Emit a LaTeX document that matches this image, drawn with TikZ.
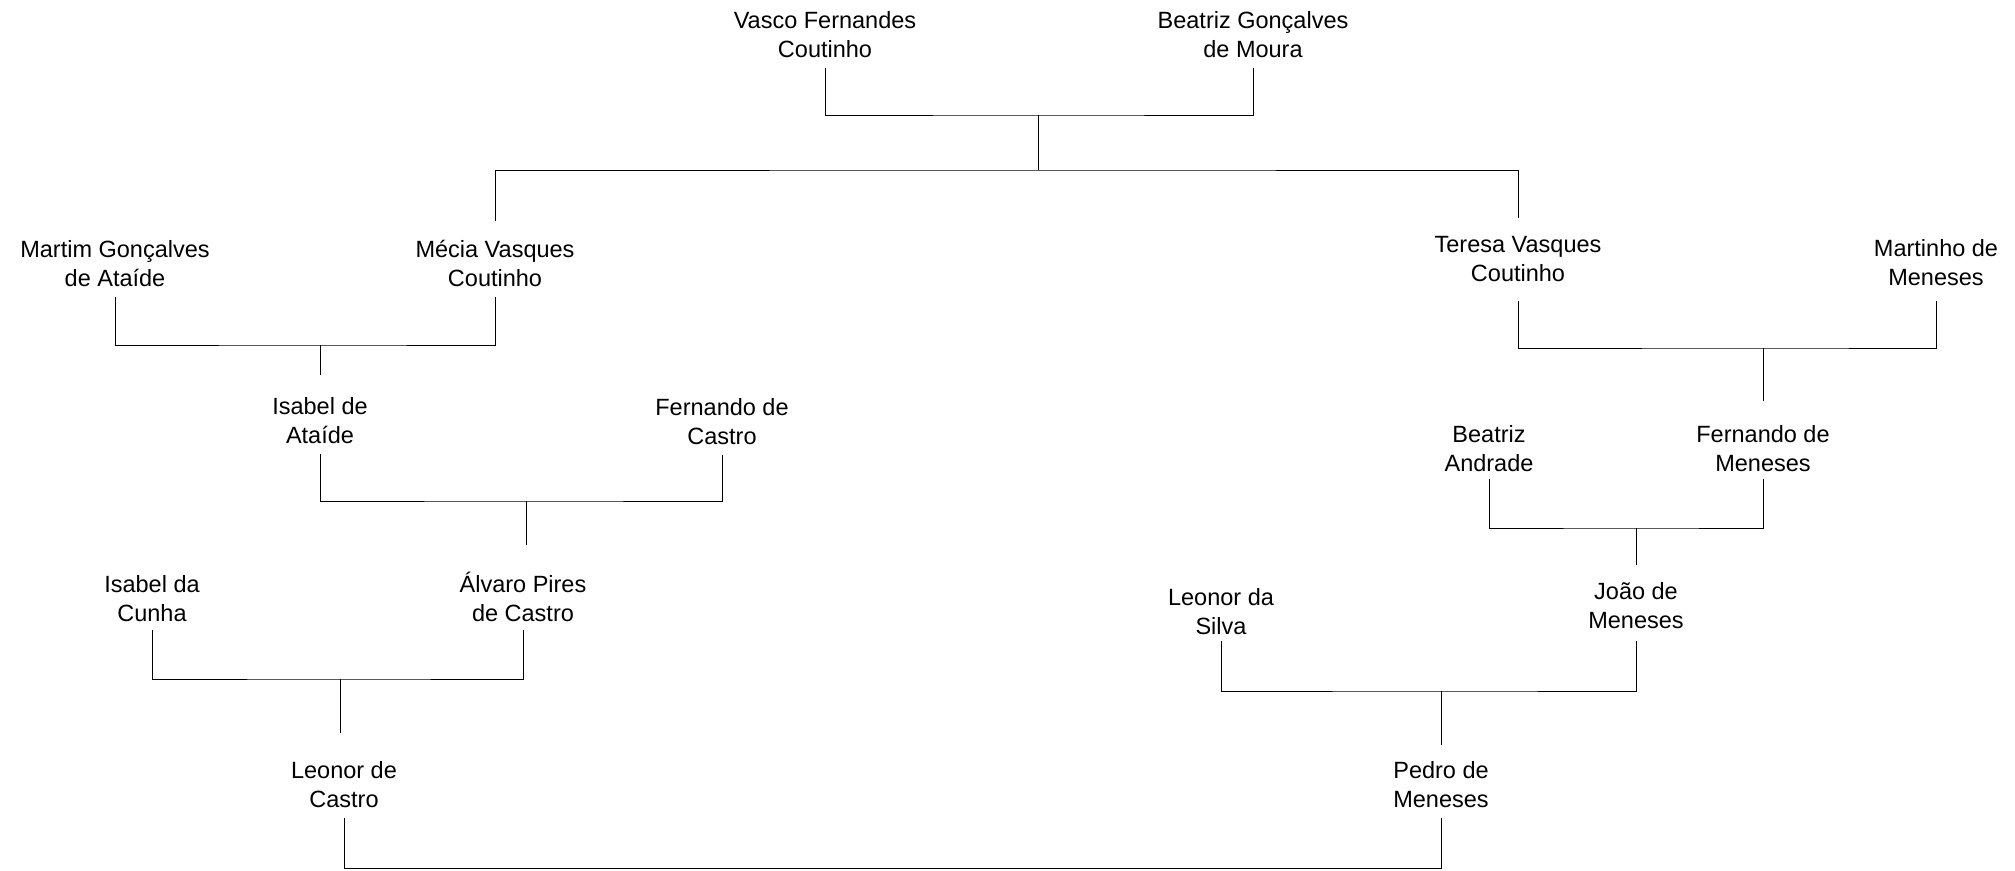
\documentclass[tikz,border=0pt]{standalone}
\usepackage{fontspec}
\newfontfamily\personfont{Liberation Sans}
\begin{document}
\begin{tikzpicture}[x=1pt,y=-1pt,
  person/.style={font={\personfont\fontsize{23.5}{29}\selectfont}, align=center,
    inner sep=0pt, outer xsep=0pt, outer ysep=10pt, anchor=south, text=black},
  link/.style={draw=black, line width=1pt}]
\useasboundingbox (0,0) rectangle (2015,870);

% generation 1
\node[person] (vasco)    at (825,68)  {Vasco Fernandes\\Coutinho};
\node[person] (beatrizG) at (1253,68) {Beatriz Gonçalves\\de Moura};
% generation 2
\node[person] (martim)   at (115,297)  {Martim Gonçalves\\de Ataíde};
\node[person] (mecia)    at (495,297)  {Mécia Vasques\\Coutinho};
\node[person, outer ysep=19pt] (teresa)   at (1518,301) {Teresa Vasques\\Coutinho};
\node[person, outer ysep=15pt] (martinho) at (1936,301) {Martinho de\\Meneses};
% generation 3
\node[person] (isabelA)  at (320,454)  {Isabel de\\Ataíde};
\node[person] (fernandoC) at (722,455) {Fernando de\\Castro};
\node[person, outer ysep=7pt] (beatrizA) at (1489,479) {Beatriz\\Andrade};
\node[person, outer ysep=7pt] (fernandoM) at (1763,479) {Fernando de\\Meneses};
% generation 4
\node[person, outer ysep=8pt] (isabelC) at (152,630) {Isabel da\\Cunha};
\node[person, outer ysep=8pt] (alvaro)  at (523,630) {Álvaro Pires\\de Castro};
\node[person, outer ysep=6pt] (leonorS) at (1221,641) {Leonor da\\Silva};
\node[person, outer ysep=12pt] (joao)   at (1636,641) {João de\\Meneses};
% generation 5
\node[person] (leonorC) at (344,818)  {Leonor de\\Castro};
\node[person] (pedro)   at (1441,818) {Pedro de\\Meneses};

% joins and child ends
\coordinate (j1) at (1038,115);
\coordinate (s1) at (1038,170);
\coordinate (in-mecia) at (495,221);
\coordinate (in-teresa) at (1518,218);
\coordinate (j2) at (320,345);
\coordinate (e2) at (320,375);
\coordinate (j3) at (1763,348);
\coordinate (e3) at (1763,401);
\coordinate (j4) at (526,501);
\coordinate (e4) at (526,545);
\coordinate (j5) at (1636,528);
\coordinate (e5) at (1636,565);
\coordinate (j6) at (340,679);
\coordinate (e6) at (340,733);
\coordinate (j7) at (1441,691);
\coordinate (e7) at (1441,745);
\coordinate (j8) at (900,868);

% couples and descent
\draw[link] (vasco.south) |- (j1) -| (beatrizG.south);
\draw[link] (j1) -- (s1);
\draw[link] (in-mecia) |- (s1) -| (in-teresa);

\draw[link] (martim.south) |- (j2) -| (mecia.south);
\draw[link] (j2) -- (e2);

\draw[link] (teresa.south) |- (j3) -| (martinho.south);
\draw[link] (j3) -- (e3);

\draw[link] (isabelA.south) |- (j4) -| (fernandoC.south);
\draw[link] (j4) -- (e4);

\draw[link] (beatrizA.south) |- (j5) -| (fernandoM.south);
\draw[link] (j5) -- (e5);

\draw[link] (isabelC.south) |- (j6) -| (alvaro.south);
\draw[link] (j6) -- (e6);

\draw[link] (leonorS.south) |- (j7) -| (joao.south);
\draw[link] (j7) -- (e7);

\draw[link] (leonorC.south) |- (j8) -| (pedro.south);
\end{tikzpicture}
\end{document}
